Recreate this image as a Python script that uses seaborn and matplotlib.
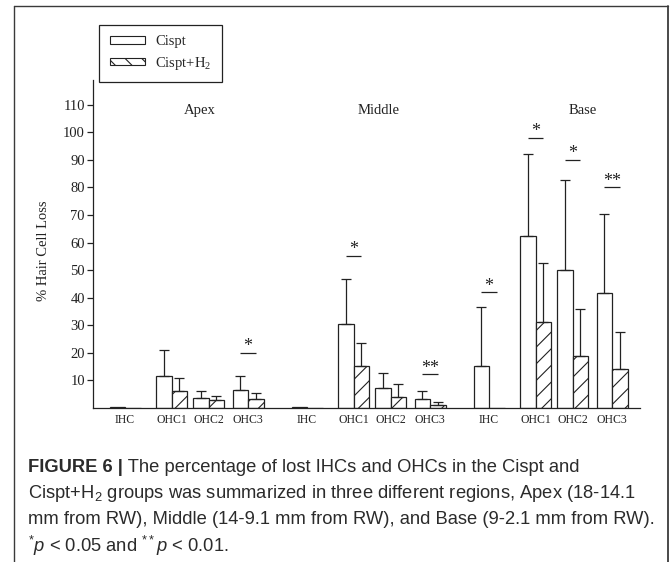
import numpy as np
import pandas as pd
import matplotlib
matplotlib.use("Agg")
import matplotlib.pyplot as plt
from matplotlib.patches import Patch
from matplotlib.lines import Line2D
import seaborn as sns

# ---------------- data ----------------
regions = ["Apex", "Middle", "Base"]
cells = ["IHC", "OHC1", "OHC2", "OHC3"]
groups = ["Cispt", "Cispt+H2"]
group_labels = ["Cispt", r"Cispt+H$_\mathregular{2}$"]

cispt_mean = [0.4, 11.7, 3.5, 6.6, 0.4, 30.4, 7.1, 3.3, 15.2, 62.4, 50.2, 41.9]
cispt_sd = [0.0, 9.4, 2.5, 5.1, 0.0, 16.5, 5.5, 2.8, 21.5, 29.7, 32.7, 28.6]
h2_mean = [0.0, 6.3, 2.9, 3.1, 0.0, 15.4, 4.0, 1.2, 0.0, 31.1, 19.0, 14.3]
h2_sd = [0.0, 4.7, 1.5, 2.5, 0.0, 8.1, 4.6, 0.8, 0.0, 21.4, 16.8, 13.1]

sig_marks = ["", "", "", "*", "", "*", "", "**", "*", "*", "*", "**"]
sig_level = [np.nan, np.nan, np.nan, 20.1, np.nan, 55.3, np.nan, 12.2,
             42.1, 98.1, 90.1, 80.2]

y_ticks = [10, 20, 30, 40, 50, 60, 70, 80, 90, 100, 110]
y_label = "% Hair Cell Loss"

caption_bold = "FIGURE 6 |"
caption_lines = [
    " The percentage of lost IHCs and OHCs in the Cispt and",
    r"Cispt+H$_\mathregular{2}$ groups was summarized in three different regions, Apex (18-14.1",
    "mm from RW), Middle (14-9.1 mm from RW), and Base (9-2.1 mm from RW).",
    r"$^{\mathregular{*}}\mathit{p}$ < 0.05 and $^{\mathregular{**}}\mathit{p}$ < 0.01.",
]

# ---------------- layout ----------------
W, H = 672, 562
region_start, region_step = 125.0, 182.0
cell_offset = [0.0, 46.7, 83.7, 123.1]
positions = [region_start + r * region_step + off
             for r in range(len(regions)) for off in cell_offset]
region_label_x = [200, 379, 583]
EDGE = "#222222"

sns.set_style("ticks")
plt.rcParams["font.family"] = ["Liberation Serif", "DejaVu Serif"]
plt.rcParams["mathtext.fontset"] = "custom"
plt.rcParams["mathtext.rm"] = "Liberation Sans"
plt.rcParams["mathtext.it"] = "Liberation Sans:italic"
plt.rcParams["mathtext.sf"] = "Liberation Sans"
plt.rcParams["hatch.linewidth"] = 0.8
plt.rcParams["hatch.color"] = EDGE

fig = plt.figure(figsize=(W / 100, H / 100), dpi=100)
ax_left, ax_right, ax_base, ax_top = 93.3, 640.0, 408.0, 80.0
ax = fig.add_axes([ax_left / W, (H - ax_base) / H,
                   (ax_right - ax_left) / W, (ax_base - ax_top) / H])

df = pd.DataFrame({
    "pos": positions * 2,
    "group": [groups[0]] * len(positions) + [groups[1]] * len(positions),
    "value": cispt_mean + h2_mean,
})

sns.barplot(data=df, x="pos", y="value", hue="group", hue_order=groups,
            native_scale=True, palette={g: "white" for g in groups},
            saturation=1, edgecolor=EDGE, linewidth=0.9, errorbar=None,
            width=31 / 37, legend=False, ax=ax)

# hatch second group
for p in ax.containers[1].patches:
    p.set_hatch("//")

# one-sided error bars
for cont, sds in zip(ax.containers, [cispt_sd, h2_sd]):
    bars = sorted(cont.patches, key=lambda b: b.get_x())
    xs, ys, es = [], [], []
    for b, sd in zip(bars, sds):
        if sd > 0:
            xs.append(b.get_x() + b.get_width() / 2)
            ys.append(b.get_height())
            es.append(sd)
    ax.errorbar(xs, ys, yerr=[np.zeros(len(es)), es], fmt="none",
                ecolor=EDGE, elinewidth=0.9, capsize=3.6, capthick=0.9)

# significance marks
bar_w = ax.containers[0].patches[0].get_width()
for pos, mark, lvl in zip(positions, sig_marks, sig_level):
    if mark:
        ax.hlines(lvl, pos - bar_w / 2, pos + bar_w / 2, color=EDGE, lw=0.9)
        ax.annotate(mark, (pos, lvl), xytext=(0, 1.0), textcoords="offset points",
                    ha="center", va="baseline", fontsize=13, color=EDGE)

# region labels
for name, x in zip(regions, region_label_x):
    ax.text(x, 108, name, ha="center", va="center", fontsize=10.5, color=EDGE)

ax.set_xlim(ax_left, ax_right)
ax.set_ylim(0, 119)
ax.set_xticks(positions)
ax.set_xticklabels(cells * len(regions))
ax.set_yticks(y_ticks)
ax.set_yticklabels([str(t) for t in y_ticks])
ax.set_xlabel("")
ax.tick_params(axis="x", length=0, pad=4, labelsize=8.5, colors=EDGE)
ax.tick_params(axis="y", length=4.3, width=0.9, pad=1.7, labelsize=10.5,
               direction="out", colors=EDGE)
for s in ["top", "right"]:
    ax.spines[s].set_visible(False)
for s in ["left", "bottom"]:
    ax.spines[s].set_color(EDGE)
    ax.spines[s].set_linewidth(0.9)
ax.set_ylabel(y_label, fontsize=10.5, color=EDGE)
ax.yaxis.set_label_coords(-0.079, 0.48)

# legend
handles = [Patch(facecolor="white", edgecolor=EDGE, linewidth=0.8),
           Patch(facecolor="white", edgecolor=EDGE, linewidth=0.8, hatch="\\\\")]
leg = ax.legend(handles, group_labels, loc="upper left",
                bbox_to_anchor=(99.3 / W, 1 - 25 / H), bbox_transform=fig.transFigure,
                borderaxespad=0, frameon=True, fancybox=False, framealpha=1,
                edgecolor=EDGE, handlelength=2.45, handleheight=0.4,
                handletextpad=0.7, labelspacing=0.45, borderpad=0.7,
                prop={"family": "Liberation Serif", "size": 10.5})
leg.get_frame().set_linewidth(0.9)

# outer frame
fc = "#3a3a3a"
fig.add_artist(Line2D([14 / W, 14 / W], [0, 1 - 6 / H], transform=fig.transFigure, color=fc, lw=1))
fig.add_artist(Line2D([668 / W, 668 / W], [0, 1 - 6 / H], transform=fig.transFigure, color=fc, lw=1.3))
fig.add_artist(Line2D([14 / W, 668 / W], [1 - 6 / H, 1 - 6 / H], transform=fig.transFigure, color=fc, lw=1))

# caption
renderer = fig.canvas.get_renderer()
probe = fig.text(0, 0, caption_lines[2], fontsize=12, family="Liberation Sans")
wprobe = probe.get_window_extent(renderer).width
probe.remove()
cap_fs = 12 * 625 / wprobe
cap_col = "#2b2b2b"
cap_x = 28 / W
cap_y = [467, 494, 520, 546]
tb = fig.text(cap_x, 1 - cap_y[0] / H, caption_bold, fontsize=cap_fs, weight="bold",
              family="Liberation Sans", color=cap_col, va="center", ha="left")
bb = tb.get_window_extent(renderer)
fig.text(bb.x1 / W, 1 - cap_y[0] / H, caption_lines[0], fontsize=cap_fs,
         family="Liberation Sans", color=cap_col, va="center", ha="left")
for line, yy in zip(caption_lines[1:], cap_y[1:]):
    fig.text(cap_x, 1 - yy / H, line, fontsize=cap_fs, family="Liberation Sans",
             color=cap_col, va="center", ha="left")

fig.savefig("out.png", dpi=100)
